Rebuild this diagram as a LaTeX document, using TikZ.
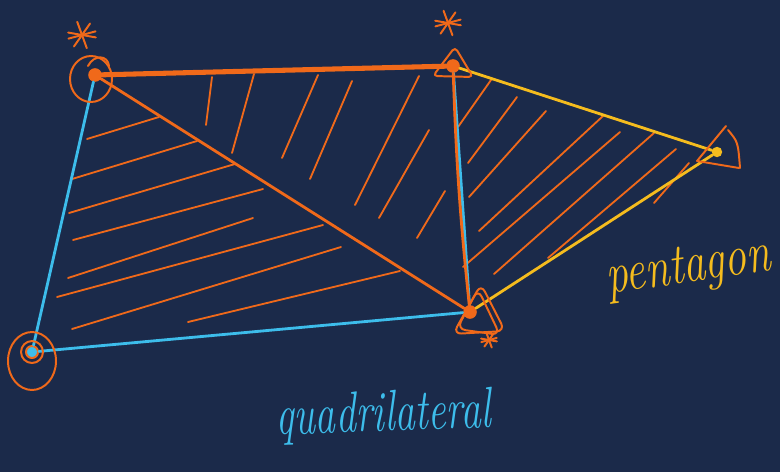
\documentclass[tikz,border=0pt]{standalone}
\usepackage{xcolor}
\usepackage{tikz}
\usetikzlibrary{calc}
\definecolor{board}{HTML}{1B2A4A}
\definecolor{penorange}{HTML}{F0691A}
\definecolor{penblue}{HTML}{3DBDEB}
\definecolor{penyellow}{HTML}{F5BC1E}

\begin{document}
\begin{tikzpicture}[
  x=0.025cm, y=-0.025cm,
  line cap=round, line join=round,
  edge/.style={line width=2pt},
  hatch/.style={penorange, line width=1.3pt},
  ring/.style={penorange, line width=1.4pt},
  vtx/.style={circle, fill=#1, minimum size=3.4mm, inner sep=0pt},
  hollow/.style={circle, draw=penorange, fill=penblue, line width=1.4pt, minimum size=3mm, inner sep=0pt},
  word/.style={font=\fontsize{41}{41}\selectfont\itshape, inner sep=0pt, anchor=base}
]
\fill[board] (0,0) rectangle (780,472);
\useasboundingbox (0,0) rectangle (780,472);

% vertices
\node[vtx=penorange] (A) at (95,75) {};
\node[vtx=penorange] (B) at (453,66) {};
\node[vtx=penyellow, minimum size=2.6mm] (C) at (717,152) {};
\node[vtx=penorange] (D) at (470,312) {};
\node[hollow] (E) at (32,352) {};

% hatching
\foreach \a/\b/\c/\d in {87/139/159/117, 72/179/197/141, 69/213/235/164, 73/240/263/189,
    68/278/253/218, 57/297/323/225, 72/329/341/247, 188/322/400/271}
  \draw[hatch] (\a,\b) -- (\c,\d);
\foreach \a/\b/\c/\d in {206/125/212/77, 232/153/254/74, 282/158/318/75, 310/179/352/81,
    355/205/419/76, 379/218/429/130, 417/238/445/191}
  \draw[hatch] (\a,\b) -- (\c,\d);
\foreach \a/\b/\c/\d in {458/127/491/80, 468/163/517/97, 469/197/546/111, 479/231/603/116,
    463/267/620/132, 494/274/654/133, 548/258/676/149, 654/203/689/163}
  \draw[hatch] (\a,\b) -- (\c,\d);

% sides
\draw[edge, penblue] (A) -- (B);
\draw[penorange, line width=3.6pt] (A) -- (B);
\draw[edge, penyellow] (B) -- (C);
\draw[edge, penyellow] (C) -- (D);
\draw[edge, penblue] (D) -- (E);
\draw[edge, penblue] (E) -- (A);
\draw[edge, penorange] (A) -- (D);
\draw[edge, penblue] (B) -- (D);
\draw[edge, penorange] (B) to[bend right=2] (D);

% angle marks
\draw[ring] (91,79) ellipse [x radius=21, y radius=23];
\draw[ring] (88,66) .. controls (94,54) and (108,55) .. (109,66);
\draw[ring, rounded corners=3pt] (433,76) -- (455,47) -- (473,77) -- cycle;
\draw[ring] (726,126) -- (697,161) -- (739,168);
\draw[ring] (728,130) .. controls (738,142) .. (740,168);
\draw[ring, rounded corners=6pt] (453,334) -- (481,284) -- (505,331) -- cycle;
\draw[ring, rounded corners=6pt] (457,329) -- (478,289) -- (500,335) -- cycle;
\draw[ring] (32,361) ellipse [x radius=24, y radius=29];
\draw[ring] (32,352) circle [radius=11];

% stars
\foreach \cx/\cy/\s in {82/35/14, 448/23/13, 489/340/8}
  \foreach \t in {10,70,125,165}
    \draw[ring, shift={(\cx,\cy)}] (\t:\s) -- (\t+180:\s);

% names
\node[word, penyellow, rotate=8] (pent) at (690,282) {\scalebox{0.76}[1]{pentagon}};
\node[word, penblue, rotate=2] (quad) at (384,431) {\scalebox{0.7}[1]{quadrilateral}};
\end{tikzpicture}
\end{document}
